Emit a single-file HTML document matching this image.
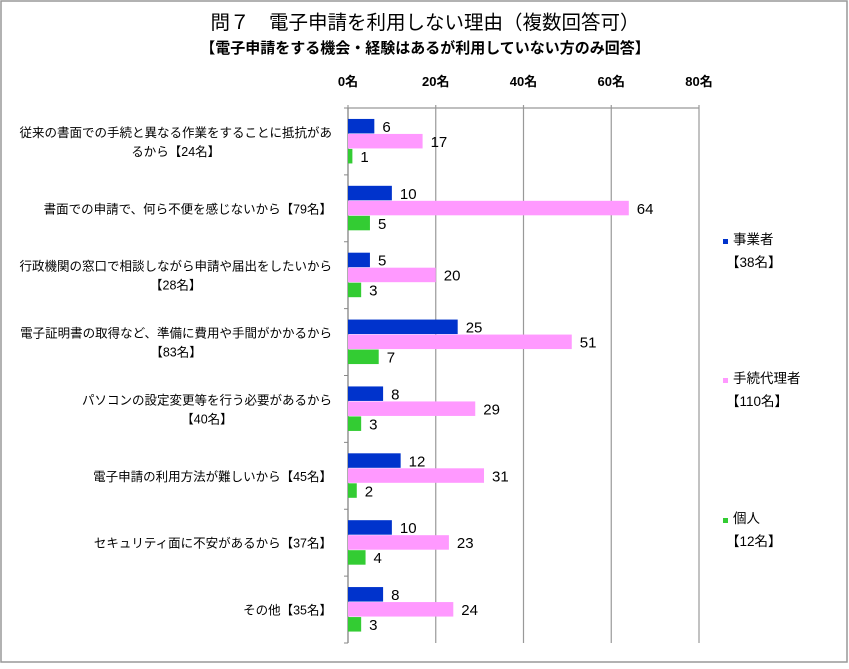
<!DOCTYPE html>
<html><head><meta charset="utf-8"><style>
body{margin:0;background:#fff;}
#c{position:relative;width:849px;height:664px;font-family:"Liberation Sans","Noto Sans CJK JP",sans-serif;}
</style></head><body>
<div id="c">
<svg width="849" height="664" xmlns="http://www.w3.org/2000/svg" id="svg">
<rect x="1" y="1" width="846" height="661" fill="#fff" stroke="#999" stroke-width="1.5"/>
<text x="425" y="29" text-anchor="middle" font-size="19.5" font-family="Liberation Sans,Noto Sans CJK JP,sans-serif">問７　電子申請を利用しない理由（複数回答可）</text>
<text x="425" y="53" text-anchor="middle" font-size="15" font-weight="bold" font-family="Liberation Sans,Noto Sans CJK JP,sans-serif">【電子申請をする機会・経験はあるが利用していない方のみ回答】</text>
<g id="plot"></g>
</svg>
</div>
<script>
const categories=[["従来の書面での手続と異なる作業をすることに抵抗があ","るから【24名】"],["書面での申請で、何ら不便を感じないから【79名】"],["行政機関の窓口で相談しながら申請や届出をしたいから","【28名】"],["電子証明書の取得など、準備に費用や手間がかかるから","【83名】"],["パソコンの設定変更等を行う必要があるから","【40名】"],["電子申請の利用方法が難しいから【45名】"],["セキュリティ面に不安があるから【37名】"],["その他【35名】"]];
const jigyosha=[6,10,5,25,8,12,10,8];
const dairi=[17,64,20,51,29,31,23,24];
const kojin=[1,5,3,7,3,2,4,3];
const ticks=[0,20,40,60,80];
const tickLabels=["0名","20名","40名","60名","80名"];
const seriesNames=[["事業者","【38名】"],["手続代理者","【110名】"],["個人","【12名】"]];
const NS="http://www.w3.org/2000/svg";
const g=document.getElementById('plot');
const X0=348,X1=699,Y0=108,Y1=643;
const xs=v=>X0+(v-0)/(80-0)*(X1-X0);
const band=(Y1-Y0)/categories.length;
const F='Liberation Sans,Noto Sans CJK JP,sans-serif';
function mk(t,a){const e=document.createElementNS(NS,t);for(const k in a)e.setAttribute(k,a[k]);g.appendChild(e);return e;}
ticks.forEach((t,i)=>{
 const gl=mk('line',{x1:xs(t),x2:xs(t),y1:Y0-3,y2:Y1,stroke:'#999','stroke-width':1.2});
 
 
 const tl=mk('text',{x:xs(t),y:86,'text-anchor':'middle','font-size':13,'font-weight':'bold','font-family':F});
 tl.textContent=tickLabels[i];
 
 
});
const ax=mk('line',{x1:X0,x2:X1,y1:Y0,y2:Y0,stroke:'#999','stroke-width':1.2});


const ay=mk('line',{x1:X0,x2:X0,y1:Y0,y2:Y1,stroke:'#888','stroke-width':1.2});


for(let i=0;i<=categories.length;i++){
 const tk=mk('line',{x1:X0-4,x2:X0,y1:Y0+i*band,y2:Y0+i*band,stroke:'#888'});
 
 
}
const series=[jigyosha,dairi,kojin];
const colors=['#0033cc','#ff99ff','#33cc33'];
const bh=15;
categories.forEach((c,i)=>{
 const cy=Y0+i*band+band/2;
 const lines=c;
 let firstLen=0;
 lines.forEach((ln,j)=>{
  const y=cy+5+(j-(lines.length-1)/2)*19;
  let t;
  if(j===0){
   t=mk('text',{x:332,y:y,'text-anchor':'end','font-size':12.5,'font-family':F});
   t.textContent=ln;
   firstLen=t.getComputedTextLength();
  }else{
   t=mk('text',{x:332-firstLen/2,y:y,'text-anchor':'middle','font-size':12.5,'font-family':F});
   t.textContent=ln;
  }
  
  
 });
 series.forEach((s,k)=>{
  const y=cy-bh*1.5+k*bh;
  const r=mk('rect',{x:X0,y:y,width:xs(s[i])-X0,height:bh-0.5,fill:colors[k]});
  
  
  const v=mk('text',{x:xs(s[i])+8,y:y+13,'font-size':15,'font-family':F});
  v.textContent=s[i];
  
  
 });
});
const ly=[244,383,523];
seriesNames.forEach((n,k)=>{
 const r=mk('rect',{x:723,y:ly[k]-5,width:5,height:5,fill:colors[k]});
 
 
 const t=mk('text',{x:733,y:ly[k],'font-size':13.5,'font-family':F});
 t.textContent=n[0];
 
 
 const t2=mk('text',{x:726,y:ly[k]+23,'font-size':13.5,'font-family':F});
 t2.textContent=n[1];
 
 
});
</script>
</body></html>
